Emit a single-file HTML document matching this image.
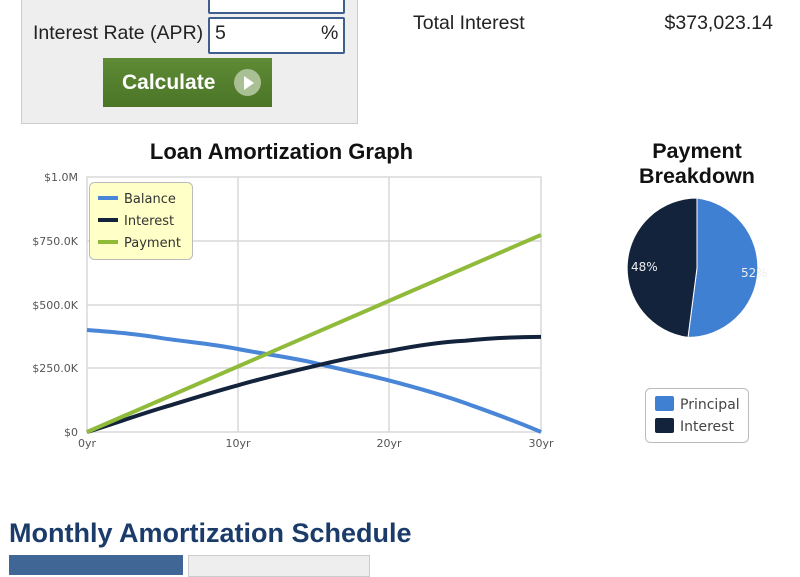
<!DOCTYPE html><html><head><style>
body{margin:0;width:800px;height:568px;overflow:hidden;background:#fff;font-family:"Liberation Sans",sans-serif;position:relative}
.a{position:absolute}
</style></head><body>
<div class="a" style="left:21px;top:-2px;width:335px;height:124px;background:#eee;border:1px solid #ccc"></div>
<div class="a" style="left:208px;top:-10px;width:133px;height:20px;background:#fff;border:2px solid #3e5f8e;border-radius:2px"></div>
<div class="a" style="left:33px;top:22px;font-size:19.5px;color:#222">Interest Rate (APR)</div>
<div class="a" style="left:208px;top:17px;width:133px;height:33px;background:#fff;border:2px solid #3e5f8e;border-radius:2px"></div>
<div class="a" style="left:215px;top:22px;font-size:19.5px;color:#222">5</div>
<div class="a" style="left:321px;top:22px;font-size:19.5px;color:#222">%</div>
<div class="a" style="left:103px;top:58px;width:169px;height:49px;background:linear-gradient(#5f8b36,#4a7526);"></div>
<div class="a" style="left:122px;top:71px;font-size:21px;font-weight:bold;color:#fff">Calculate</div>
<div class="a" style="left:234px;top:69px;width:27px;height:27px;border-radius:50%;background:#a9c095"></div>
<div class="a" style="left:244px;top:76px;width:0;height:0;border-left:10px solid #fff;border-top:7px solid transparent;border-bottom:7px solid transparent"></div>
<div class="a" style="left:413px;top:12px;font-size:19.5px;color:#222">Total Interest</div>
<div class="a" style="left:600px;top:12px;width:173px;text-align:right;font-size:19.5px;color:#222">$373,023.14</div>
<div class="a" style="left:100px;top:139px;width:363px;text-align:center;font-size:22px;font-weight:bold;color:#111">Loan Amortization Graph</div>
<div class="a" style="left:597px;top:139px;width:200px;text-align:center;font-size:21.5px;font-weight:bold;color:#111;line-height:25px">Payment<br>Breakdown</div>
<svg class="a" style="left:0;top:0" width="800" height="568" font-family="DejaVu Sans,sans-serif">
<g stroke="#d8d8d8" stroke-width="1.5" fill="none">
<rect x="87" y="177" width="454" height="255"/>
<line x1="238" y1="177" x2="238" y2="432"/><line x1="389" y1="177" x2="389" y2="432"/>
<line x1="87" y1="241" x2="541" y2="241"/><line x1="87" y1="305" x2="541" y2="305"/><line x1="87" y1="368" x2="541" y2="368"/>
</g>
<g font-size="11" fill="#555" text-anchor="end">
<text x="78" y="181">$1.0M</text><text x="78" y="245">$750.0K</text><text x="78" y="309">$500.0K</text><text x="78" y="372">$250.0K</text><text x="78" y="436">$0</text>
</g>
<g font-size="11" fill="#555" text-anchor="middle">
<text x="87" y="447">0yr</text><text x="238" y="447">10yr</text><text x="389" y="447">20yr</text><text x="541" y="447">30yr</text>
</g>
<g fill="none" stroke-width="4">
<path d="M87,330 C113,332 138,334 163,338.3 C188,342 213,344 238,349 C263,354 289,357 314,362.8 C339,369 364,374 389,380.4 C414,387 440,394 465,403 C490,412 516,421 541,432" stroke="#4a86d8"/>
<path d="M87,432 C113,424 138,415 163,407.5 C188,400 213,392 238,385.3 C263,378 289,372 314,366.2 C339,360 364,355 389,351 C414,346 440,342 465,340.7 C490,338 516,337 541,336.9" stroke="#13233c"/>
<path d="M87,432 L541,234.9" stroke="#90bb3a"/>
</g>
<rect x="89.5" y="182.5" width="103" height="77" rx="5" fill="#ffffc8" stroke="#bbb"/>
<g stroke-width="4"><line x1="98" y1="198" x2="118" y2="198" stroke="#4a86d8"/><line x1="98" y1="220" x2="118" y2="220" stroke="#13233c"/><line x1="98" y1="242" x2="118" y2="242" stroke="#90bb3a"/></g>
<g font-size="13" fill="#333"><text x="124" y="203">Balance</text><text x="124" y="225">Interest</text><text x="124" y="247">Payment</text></g>
<path d="M697,268 L697,198 A70,70 0 0 1 688,337.4 Z" fill="#3f80d2" stroke="#fff" stroke-width="1"/>
<path d="M697,268 L688,337.4 A70,70 0 0 1 697,198 Z" fill="#13233c" stroke="#fff" stroke-width="1"/>
<text x="631" y="271" font-size="12" fill="#eee">48%</text>
<text x="741" y="277" font-size="12" fill="#eee">52%</text>
<rect x="645.5" y="388.5" width="103" height="54" rx="5" fill="#fff" stroke="#bbb"/>
<rect x="655" y="396" width="19" height="15" rx="2" fill="#3f80d2"/><rect x="655" y="418" width="19" height="15" rx="2" fill="#13233c"/>
<g font-size="14" fill="#444"><text x="680" y="409">Principal</text><text x="680" y="431">Interest</text></g>
</svg>
<div class="a" style="left:9px;top:518px;font-size:27px;font-weight:bold;color:#1b3c6a">Monthly Amortization Schedule</div>
<div class="a" style="left:9px;top:555px;width:174px;height:20px;background:#3f6694"></div>
<div class="a" style="left:188px;top:555px;width:180px;height:20px;background:#eee;border:1px solid #ccc"></div>
</body></html>
